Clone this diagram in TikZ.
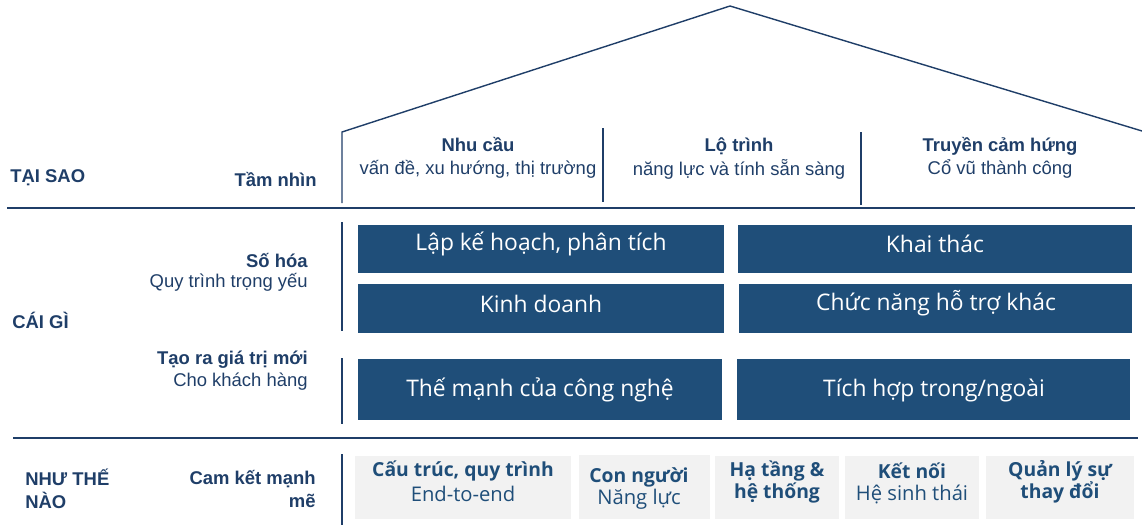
\documentclass[tikz,border=0pt]{standalone}
\usepackage{fontspec}
\setmainfont{Liberation Sans}
\newfontfamily\boxfont{Open Sans}
\definecolor{navy}{RGB}{31,78,121}
\definecolor{ink}{RGB}{31,62,104}
\definecolor{paper}{RGB}{242,242,242}

\begin{document}
\begin{tikzpicture}[x=0.02cm,y=-0.02cm,
  rule/.style={draw=ink,line width=0.8pt},
  dark/.style={fill=navy},
  light/.style={fill=paper},
  head/.style={text=ink,inner sep=0pt,font=\bfseries\fontsize{10.5}{13}\selectfont},
  sub/.style={text=ink,inner sep=0pt,font=\fontsize{10.5}{13}\selectfont},
  darktxt/.style={text=white,font=\boxfont\fontsize{13}{15}\selectfont},
  lighthead/.style={text=navy,align=center,font=\boxfont\bfseries\fontsize{11}{12.5}\selectfont},
  lightsub/.style={text=navy,font=\boxfont\fontsize{11.5}{12.5}\selectfont}]
\useasboundingbox (0,0) rectangle (1142,527);
% roof and walls
\draw[rule] (342,203) -- (342,132) -- (730,6) -- (1142,131);
\draw[rule] (603,128) -- (603,202);
\draw[rule] (861,132) -- (861,205);
\draw[rule] (7,208) -- (1135,208);
\draw[rule] (13,438) -- (1138,438);
\draw[rule] (342,222) -- (342,331);
\draw[rule] (342,358) -- (342,424);
\draw[rule] (342,454) -- (342,525);
% row labels
\node[head,anchor=west] (why) at (10,178) {TẠI SAO};
\node[head,anchor=east] (vision) at (317,179) {Tầm nhìn};
\node[head,anchor=west] (what) at (12,320) {CÁI GÌ};
\node[head,anchor=east] (digital) at (308,260) {Số hóa};
\node[sub,anchor=east] (digitalsub) at (308,282) {Quy trình trọng yếu};
\node[head,anchor=east] (value) at (308,360) {Tạo ra giá trị mới};
\node[sub,anchor=east] (valuesub) at (308,382) {Cho khách hàng};
\node[head,anchor=west,align=left] (how) at (25,489) {NHƯ THẾ\\NÀO};
\node[head,anchor=east,align=right] (commit) at (316,489) {Cam kết mạnh\\mẽ};
% vision columns
\node[head] (need) at (478,145) {Nhu cầu};
\node[sub] (needsub) at (478,169) {vấn đề, xu hướng, thị trường};
\node[head] (road) at (739,146) {Lộ trình};
\node[sub] (roadsub) at (739,169) {năng lực và tính sẵn sàng};
\node[head] (inspire) at (1000,146) {Truyền cảm hứng};
\node[sub] (inspiresub) at (1000,169) {Cổ vũ thành công};
% dark boxes
\path[dark] (358,225) rectangle (724,273);
\node[darktxt] (plan) at (541,244) {Lập kế hoạch, phân tích};
\path[dark] (738,225) rectangle (1132,273);
\node[darktxt] (exploit) at (935,244) {Khai thác};
\path[dark] (358,284) rectangle (724,333);
\node[darktxt] (business) at (541,304) {Kinh doanh};
\path[dark] (739,284) rectangle (1132,333);
\node[darktxt] (support) at (936,303) {Chức năng hỗ trợ khác};
\path[dark] (358,359) rectangle (722,420);
\node[darktxt] (tech) at (540,390) {Thế mạnh của công nghệ};
\path[dark] (737,359) rectangle (1130,420);
\node[darktxt] (integr) at (934,390) {Tích hợp trong/ngoài};
% light boxes
\path[light] (355,456) rectangle (571,519);
\node[lighthead] (struct) at (463,471) {Cấu trúc, quy trình};
\node[lightsub] (struct2) at (463,494) {End-to-end};
\path[light] (579,455) rectangle (710,519);
\node[lighthead] (people) at (639,477) {Con người};
\node[lightsub] (people2) at (639,499) {Năng lực};
\path[light] (715,456) rectangle (839,519);
\node[lighthead] (infra) at (777,482) {Hạ tầng \&\\hệ thống};
\path[light] (845,456) rectangle (979,519);
\node[lighthead] (link) at (912,471) {Kết nối};
\node[lightsub] (link2) at (912,494) {Hệ sinh thái};
\path[light] (986,456) rectangle (1134,519);
\node[lighthead] (change) at (1060,482) {Quản lý sự\\thay đổi};
\end{tikzpicture}
\end{document}
